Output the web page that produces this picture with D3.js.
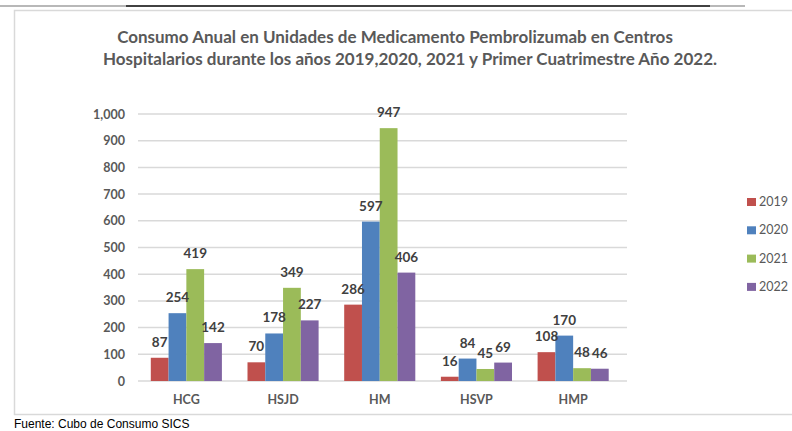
<!DOCTYPE html>
<html>
<head>
<meta charset="utf-8">
<script src="https://cdn.jsdelivr.net/npm/d3@7"></script>
<style>
  body { margin: 0; background: #fff; }
  svg { display: block; }
</style>
</head>
<body>
<div id="chart"></div>
<script>
// data
var hospitals = ["HCG", "HSJD", "HM", "HSVP", "HMP"];
var years = ["2019", "2020", "2021", "2022"];
var v2019 = [87, 70, 286, 16, 108];
var v2020 = [254, 178, 597, 84, 170];
var v2021 = [419, 349, 947, 45, 48];
var v2022 = [142, 227, 406, 69, 46];
var yTicks = [0, 100, 200, 300, 400, 500, 600, 700, 800, 900, 1000];
var colors = ["#C0504D", "#4F81BD", "#9BBB59", "#8064A2"];
var titleLines = [
  "Consumo Anual en Unidades de Medicamento Pembrolizumab en Centros",
  "Hospitalarios durante los años 2019,2020, 2021 y Primer Cuatrimestre Año 2022."
];
var source = "Fuente: Cubo de Consumo SICS";

var series = [v2019, v2020, v2021, v2022];
var W = 792, H = 431;

var svg = d3.select("#chart").append("svg")
    .attr("width", W)
    .attr("height", H);

// top rule above the chart
svg.append("line").attr("x1", 0).attr("x2", 745).attr("y1", 6).attr("y2", 6)
    .attr("stroke", "#a0a0a0").attr("stroke-width", 1.5);
svg.append("line").attr("x1", 126).attr("x2", 710).attr("y1", 6).attr("y2", 6)
    .attr("stroke", "#1a1a1a").attr("stroke-width", 1.5);

// chart frame
svg.append("rect")
    .attr("x", 14.5).attr("y", 10.5)
    .attr("width", 800).attr("height", 404)
    .attr("fill", "#fff")
    .attr("stroke", "#d9d9d9").attr("stroke-width", 1.5);

// title
svg.append("g").selectAll("text")
    .data(titleLines)
    .enter().append("text")
    .attr("x", function(d, i) { return i == 0 ? 395 : 410; })
    .attr("y", function(d, i) { return 43 + i * 22; })
    .attr("text-anchor", "middle")
    .style("font-family", "Lato, sans-serif")
    .style("font-weight", "bold")
    .style("font-size", "17px")
    .style("fill", "#595959")
    .text(function(d) { return d; });

// scales
var x0 = d3.scaleBand().domain(hospitals).range([138, 621.5]);
var x1 = d3.scaleBand().domain(years).range([0, x0.bandwidth()]).paddingOuter(0.72);
var y = d3.scaleLinear().domain([0, 1000]).range([381, 114]);

// gridlines
svg.append("g").selectAll("line")
    .data(yTicks)
    .enter().append("line")
    .attr("x1", 138).attr("x2", 627)
    .attr("y1", function(d) { return y(d); })
    .attr("y2", function(d) { return y(d); })
    .attr("stroke", "#d9d9d9")
    .attr("stroke-width", 1.5);

// y axis labels
var yAxis = svg.append("g")
    .attr("transform", "translate(132,0)")
    .call(d3.axisLeft(y).tickValues(yTicks).tickSize(0).tickPadding(7).tickFormat(d3.format(",")));
yAxis.select(".domain").remove();
yAxis.selectAll("text")
    .style("font-family", "Lato, sans-serif")
    .style("font-weight", "bold")
    .style("font-size", "12.5px")
    .style("fill", "#595959");

// x axis labels
var xAxis = svg.append("g")
    .attr("transform", "translate(0,381)")
    .call(d3.axisBottom(x0).tickSize(0).tickPadding(14));
xAxis.select(".domain").remove();
xAxis.selectAll("text")
    .style("font-family", "Lato, sans-serif")
    .style("font-weight", "bold")
    .style("font-size", "12.5px")
    .style("fill", "#595959");

// bars
var groups = svg.append("g").selectAll("g")
    .data(hospitals)
    .enter().append("g")
    .attr("transform", function(d) { return "translate(" + x0(d) + ",0)"; });

groups.selectAll("rect")
    .data(function(d, i) { return years.map(function(yr, j) { return {year: yr, value: series[j][i], k: j}; }); })
    .enter().append("rect")
    .attr("x", function(d) { return x1(d.year); })
    .attr("y", function(d) { return y(d.value); })
    .attr("width", x1.bandwidth())
    .attr("height", function(d) { return y(0) - y(d.value); })
    .attr("fill", function(d) { return colors[d.k]; });

groups.selectAll("text")
    .data(function(d, i) { return years.map(function(yr, j) { return {year: yr, value: series[j][i], k: j}; }); })
    .enter().append("text")
    .attr("x", function(d) { return x1(d.year) + x1.bandwidth() / 2; })
    .attr("y", function(d) { return y(d.value) - 11; })
    .attr("text-anchor", "middle")
    .style("font-family", "Lato, sans-serif")
    .style("font-weight", "bold")
    .style("font-size", "13.5px")
    .style("fill", "#404040")
    .text(function(d) { return d.value; });

// legend
var legend = svg.append("g").selectAll("g")
    .data(years)
    .enter().append("g")
    .attr("transform", function(d, i) { return "translate(747," + (198 + i * 28.3) + ")"; });
legend.append("rect")
    .attr("width", 9).attr("height", 8)
    .attr("fill", function(d, i) { return colors[i]; });
legend.append("text")
    .attr("x", 12).attr("y", 8)
    .style("font-family", "Lato, sans-serif")
    .style("font-size", "12.5px")
    .style("fill", "#595959")
    .text(function(d) { return d; });

// source note
svg.append("text")
    .attr("x", 14).attr("y", 428)
    .style("font-family", "Liberation Sans, Arial, sans-serif")
    .style("font-size", "12px")
    .style("fill", "#000")
    .text(source);
</script>
</body>
</html>
